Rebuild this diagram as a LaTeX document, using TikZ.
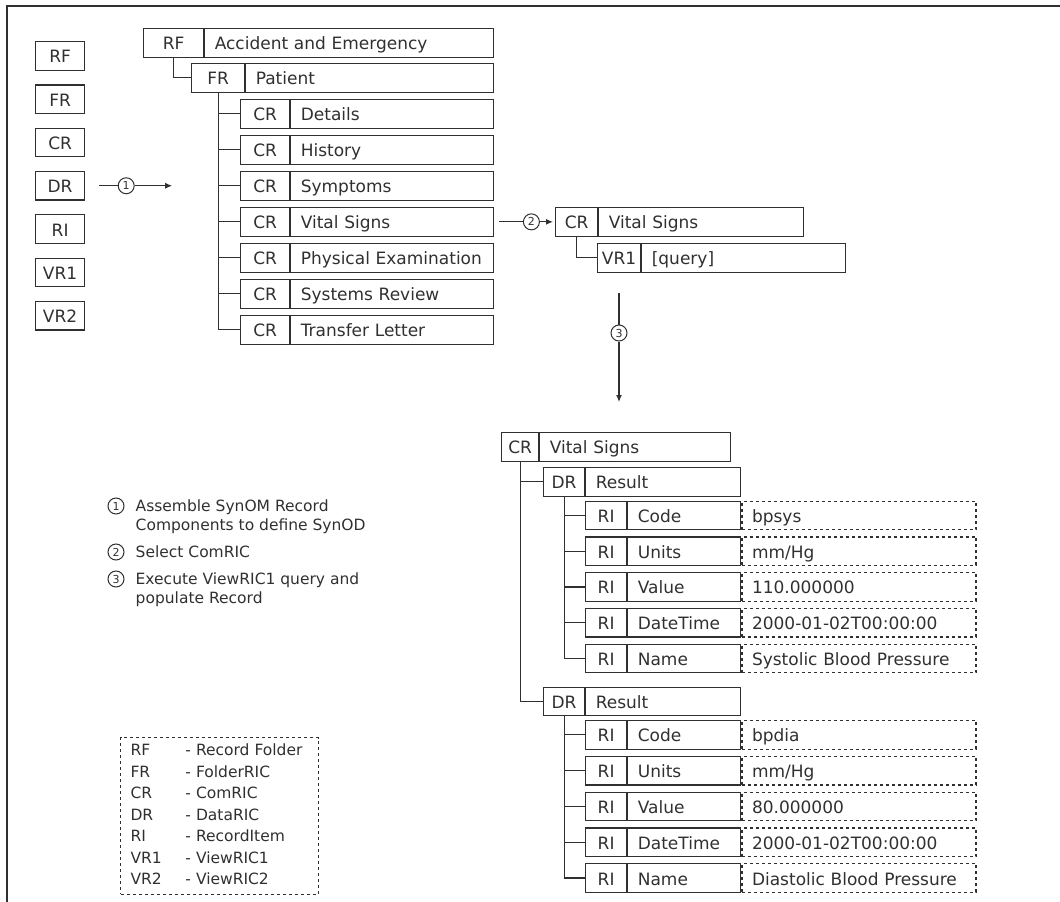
\documentclass[tikz,border=0pt]{standalone}
\usepackage{fontspec}
\setmainfont{DejaVu Sans}
\usetikzlibrary{arrows.meta,positioning,calc}
\definecolor{ink}{HTML}{303030}

\begin{document}
\begin{tikzpicture}[x=1pt,y=-1pt,
  cell/.style={draw=ink,text=ink,line width=1.2pt,anchor=north west,minimum height=28.5pt,
    inner xsep=10pt,inner ysep=0pt,text height=14pt,text depth=0pt,font=\fontsize{17}{20}\selectfont},
  tag/.style={cell,inner xsep=0pt,minimum width=#1},
  lab/.style={cell,text width=#1},
  val/.style={cell,dashed,text width=#1},
  num/.style={draw=ink,text=ink,line width=1pt,circle,minimum size=16pt,inner sep=0pt,font=\fontsize{11}{11}\selectfont},
  note/.style={text=ink,anchor=west,align=left,inner sep=0pt,font=\fontsize{15.5}{19}\selectfont},
  link/.style={draw=ink,line width=1.2pt},
  go/.style={link,-{Latex[length=7pt,width=6pt]}}]
\useasboundingbox (0,0) rectangle (1060,902);
\draw[ink,line width=1.3pt] (1060,6) -- (7,6) -- (7,902);

% record types
\foreach \lbl [count=\i from 0] in {RF,FR,CR,DR,RI,VR1,VR2}
  \node[tag=49pt] (lb\i) at (35,41+43.3*\i) {\lbl};

% step 1
\coordinate (a1s) at ([xshift=14pt]lb3.east);
\node[num] (c1) at ([xshift=41pt]lb3.east) {1};
\coordinate (a1e) at ([xshift=87pt]lb3.east);
\draw[link] (a1s) -- (c1);
\draw[go] (c1) -- (a1e);

% folder tree
\node[tag=60pt] (rf) at (143,28) {RF};
\node[lab=269pt] (rf-l) at (rf.north east) {Accident and Emergency};
\node[tag=53pt] (fr) at (191,63) {FR};
\node[lab=228pt] (fr-l) at (fr.north east) {Patient};
\draw[link] (rf.south) |- (fr.west);
\foreach \lbl [count=\i from 0] in {Details,History,Symptoms,Vital Signs,Physical Examination,Systems Review,Transfer Letter}{
  \node[tag=49pt] (cr\i) at (240,99+36*\i) {CR};
  \node[lab=183pt] (cr\i-l) at (cr\i.north east) {\lbl};
  \draw[link] (fr.south) |- (cr\i.west);
}

% step 2
\coordinate (a2s) at ([xshift=5pt]cr3-l.east);
\node[num] (c2) at ([xshift=37pt]cr3-l.east) {2};
\node[tag=42pt] (vs) at (555,207) {CR};
\node[lab=185pt] (vs-l) at (vs.north east) {Vital Signs};
\node[tag=43pt] (vr1) at (597,243) {VR1};
\node[lab=184pt] (vr1-l) at (vr1.north east) {[query]};
\draw[link] (vs.south) |- (vr1.west);
\coordinate (a2e) at ([xshift=-2pt]vs.west);
\draw[link] (a2s) -- (c2);
\draw[go] (c2) -- (a2e);

% step 3
\coordinate (a3s) at (619,293);
\node[num] (c3) at (619,333) {3};
\coordinate (a3e) at (619,402);
\draw[link] (a3s) -- (c3);
\draw[go] (c3) -- (a3e);

% populated record
\node[tag=37pt] (cv) at (501,432) {CR};
\node[lab=171pt] (cv-l) at (cv.north east) {Vital Signs};
\foreach \grp/\ytop/\cd/\vv/\nm in {1/467/bpsys/110.000000/Systolic Blood Pressure,2/686.5/bpdia/80.000000/Diastolic Blood Pressure}{
  \node[tag=41pt] (dr\grp) at (543,\ytop) {DR};
  \node[lab=135pt] (dr\grp-l) at (dr\grp.north east) {Result};
  \draw[link] (cv.south) |- (dr\grp.west);
  \foreach \fld/\fv [count=\j from 0] in {Code/\cd,Units/mm\slash Hg,Value/\vv,DateTime/2000-01-02T00:00:00,Name/\nm}{
    \node[tag=41pt] (ri\grp\j) at (585,\ytop+33.5+35.8*\j) {RI};
    \node[lab=93pt] (ri\grp\j-l) at (ri\grp\j.north east) {\fld};
    \node[val=214pt] (rv\grp\j) at (ri\grp\j-l.north east) {\fv};
    \draw[link] (dr\grp.south) |- (ri\grp\j.west);
  }
}

% notes
\node[num] (n1) at (116,506) {1};
\node[note] (t1) at ([xshift=11pt,yshift=-11pt]n1.east) {Assemble SynOM Record\\Components to define SynOD};
\node[num] (n2) at (116,552) {2};
\node[note] (t2) at ([xshift=11pt]n2.east) {Select ComRIC};
\node[num] (n3) at (116,579) {3};
\node[note] (t3) at ([xshift=11pt,yshift=-11pt]n3.east) {Execute ViewRIC1 query and\\populate Record};

% key
\node[draw=ink,text=ink,dashed,line width=1pt,anchor=north west,inner xsep=10pt,inner ysep=3pt,
  font=\fontsize{15.5}{21.5}\selectfont] (key) at (120,737) {%
  \begin{tabular}{@{}p{55pt}@{}l@{\hspace{6pt}}}
  RF & - Record Folder\\ FR & - FolderRIC\\ CR & - ComRIC\\ DR & - DataRIC\\
  RI & - RecordItem\\ VR1 & - ViewRIC1\\ VR2 & - ViewRIC2
  \end{tabular}};
\end{tikzpicture}
\end{document}
